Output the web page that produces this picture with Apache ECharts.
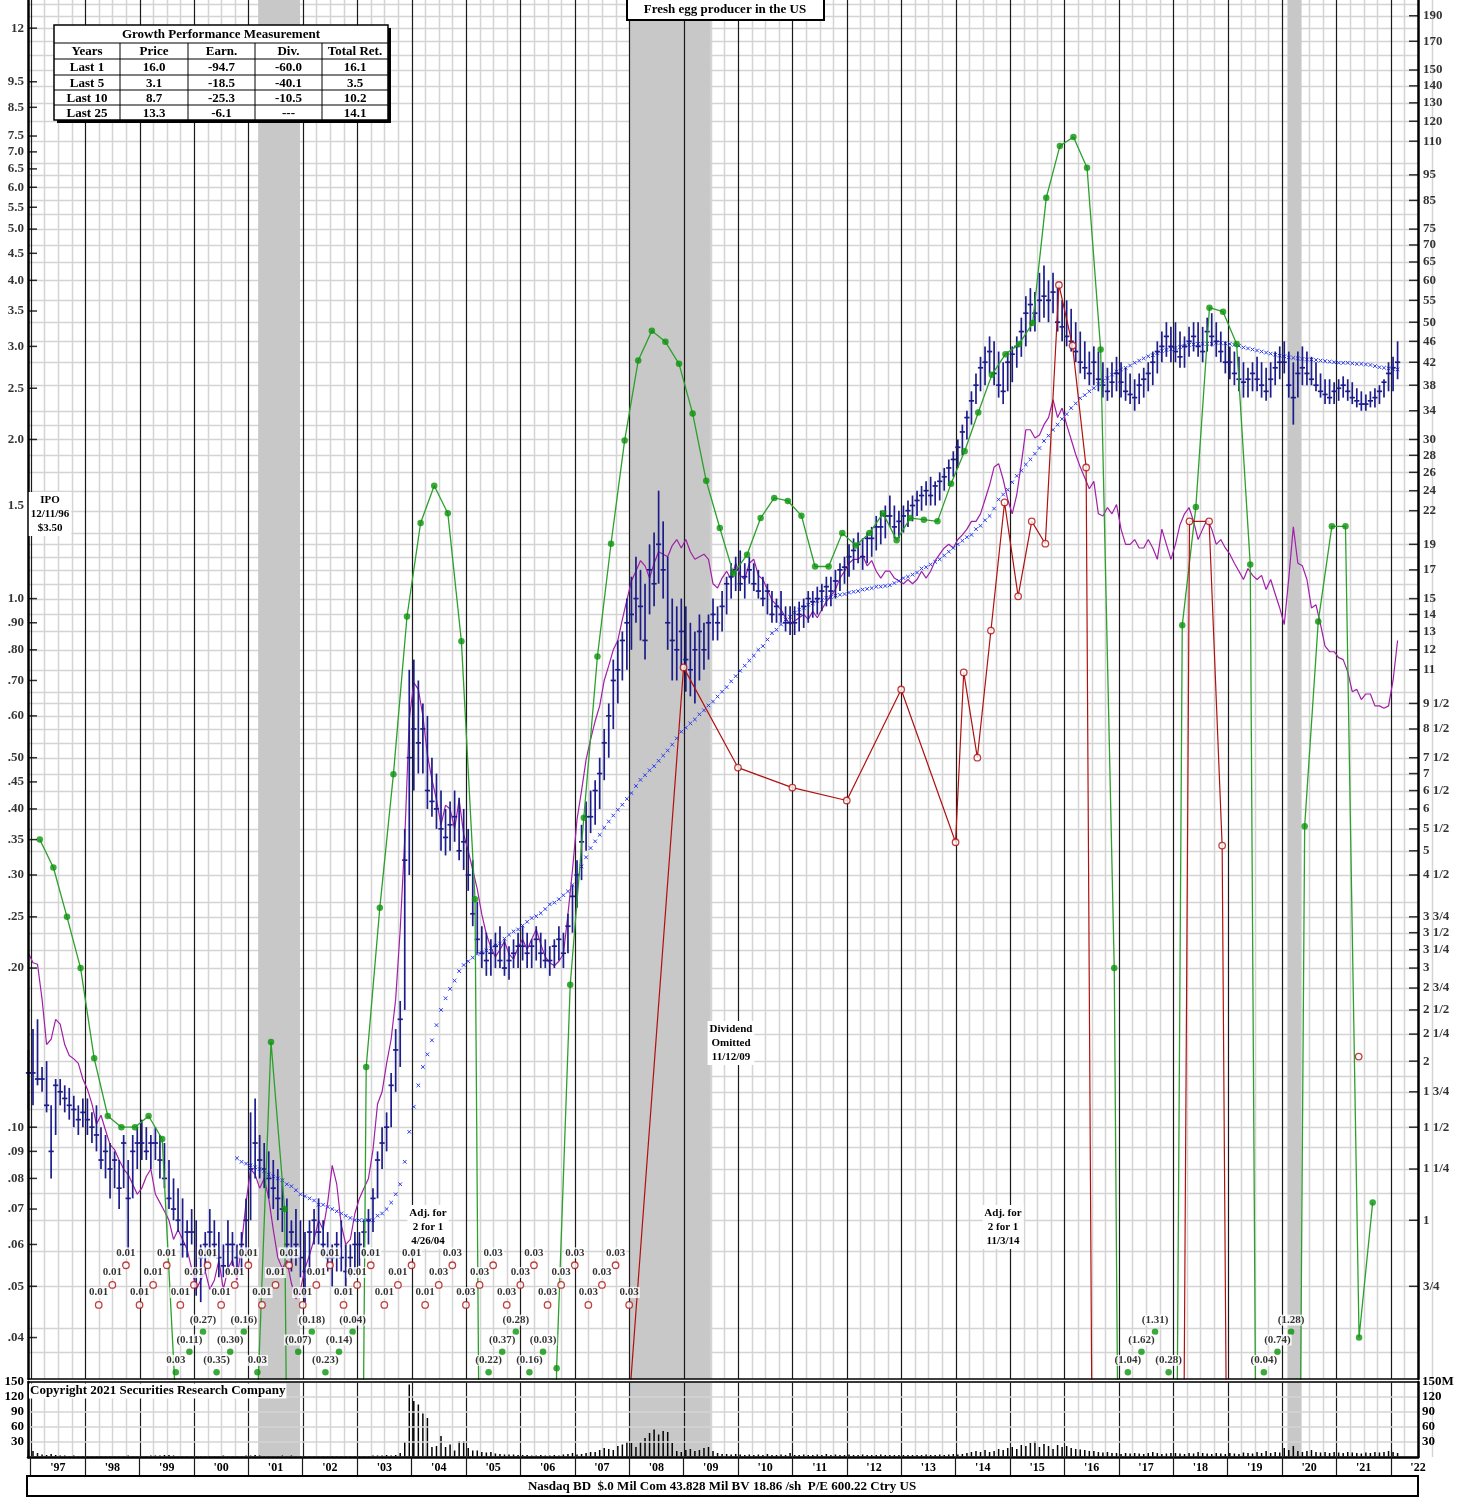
<!DOCTYPE html>
<html>
<head>
<meta charset="utf-8">
<title>Fresh egg producer in the US</title>
<script src="https://cdn.jsdelivr.net/npm/echarts@6/dist/echarts.min.js"></script>
<style>
  html, body { margin: 0; padding: 0; background: #fff; }
  #chart { width: 1470px; height: 1501px; }
</style>
</head>
<body>
<div id="chart"></div>
<script>
// monthly bars start Dec 1996 (month centre), one value per month
const MONTH0 = 1996 + 11.5 / 12;

const priceHigh = [
  2.1,
  2.3, 2.4, 1.95, 2.0, 1.65, 1.85, 1.85, 1.8, 1.78, 1.72, 1.65, 1.7,
  1.7, 1.6, 1.65, 1.5, 1.45, 1.4, 1.35, 1.3, 1.45, 1.3, 1.45, 1.5,
  1.55, 1.5, 1.45, 1.5, 1.45, 1.4, 1.3, 1.2, 1.15, 1.1, 1.0, 1.05,
  1.0, 0.9, 0.95, 1.05, 1.0, 0.95, 0.9, 1.0, 0.95, 0.9, 0.95, 1.1,
  1.6, 1.7, 1.45, 1.4, 1.35, 1.3, 1.25, 1.2, 1.1, 1.0, 1.05, 1.0,
  0.95, 1.0, 1.05, 1.1, 1.0, 0.95, 0.9, 0.95, 1.0, 0.9, 0.9, 0.95,
  0.95, 1.0, 1.05, 1.15, 1.35, 1.5, 1.6, 1.9, 2.3, 2.6, 5.5, 11.0,
  11.5, 10.5, 9.5, 9.0, 7.5, 7.0, 6.5, 6.0, 6.2, 6.5, 6.3, 6.0,
  5.5, 4.8, 4.0, 3.6, 3.5, 3.4, 3.5, 3.6, 3.4, 3.3, 3.4, 3.5,
  3.6, 3.5, 3.4, 3.6, 3.5, 3.4, 3.3, 3.4, 3.6, 3.5, 3.8, 4.3,
  4.8, 5.6, 6.2, 6.5, 6.8, 7.5, 8.5, 9.5, 11.5, 12.5, 13.0, 15.0,
  16.5, 18, 17, 16, 19, 20, 24, 21, 18, 15, 14.5, 15,
  14.5, 13.5, 13, 14, 13.5, 14, 15, 14.5, 15.5, 16.5, 17.5, 18,
  18.5, 17.5, 18, 17.5, 17, 16.5, 16, 15.5, 15, 15.5, 14.5, 14.5,
  14.5, 14.8, 15, 15.5, 15.5, 15.8, 16, 16.5, 16.5, 17, 17.5, 18,
  19, 19.5, 20, 19.5, 20, 20.5, 21.5, 22, 22.5, 23.5, 22.5, 22,
  22.5, 23, 23.5, 24, 24.5, 25, 25.5, 25, 26, 26.5, 27.5, 28.5,
  30, 32, 34, 37, 40, 43, 45, 47, 46, 44, 42, 44,
  45, 47, 51, 56, 58, 57, 62, 64, 60, 62, 58, 55,
  55, 53, 50, 48, 46, 44, 45, 44, 42, 41, 42, 43,
  42, 41, 40, 39, 40, 41, 42, 44, 46, 48, 50, 49,
  50, 48, 47, 49, 50, 50, 49, 51, 52, 50, 48, 46,
  45, 44, 43, 42, 41, 42, 43, 42, 41, 42, 44, 45,
  46, 44, 42, 44, 45, 44, 43, 42, 40, 39, 39, 38.5,
  39, 39.5, 39, 38.5, 37.5, 37, 36.5, 37, 37.5, 38, 39, 42,
  43, 46
];
const priceLow = [
  1.62,
  1.65, 1.8, 1.75, 1.6, 1.2, 1.45, 1.65, 1.6, 1.55, 1.5, 1.45, 1.5,
  1.45, 1.4, 1.35, 1.25, 1.2, 1.1, 1.15, 1.05, 1.15, 0.88, 1.1, 1.25,
  1.3, 1.3, 1.25, 1.3, 1.2, 1.15, 1.05, 1.0, 0.95, 0.85, 0.85, 0.9,
  0.72, 0.7, 0.8, 0.85, 0.85, 0.78, 0.78, 0.8, 0.82, 0.78, 0.8, 0.85,
  1.0, 1.2, 1.2, 1.15, 1.1, 1.05, 1.0, 0.95, 0.85, 0.8, 0.82, 0.78,
  0.7, 0.8, 0.9, 0.9, 0.85, 0.8, 0.75, 0.8, 0.8, 0.75, 0.78, 0.8,
  0.82, 0.85, 0.9, 0.95, 1.1, 1.25, 1.35, 1.5, 1.75, 1.95, 2.5, 4.5,
  6.5, 7.0, 7.0, 6.0, 5.8, 5.5, 5.0, 4.9, 5.0, 5.2, 4.8, 4.6,
  4.2, 3.6, 3.2, 3.0, 2.9, 2.9, 3.0, 3.0, 2.9, 2.85, 3.0, 3.0,
  3.1, 3.0, 3.0, 3.1, 3.0, 3.0, 2.9, 3.0, 3.1, 3.0, 3.2, 3.5,
  3.9, 4.4, 5.0, 5.4, 5.6, 6.0, 6.8, 7.5, 8.5, 9.5, 10.5, 11.0,
  12, 13.5, 12.5, 11.5, 14, 14.5, 16, 15, 12, 10.5, 10.5, 11,
  10, 9.8, 9.5, 10.5, 11, 11.5, 12.5, 12.5, 13, 14, 15, 15.5,
  15.5, 15, 16, 15.5, 15, 14.5, 14, 13.5, 13.5, 13.5, 13, 12.8,
  12.8, 13, 13.2, 13.5, 13.8, 14, 14.2, 14.5, 14.5, 15, 15.5, 16,
  16.5, 17, 17.5, 17, 17.5, 18, 18.5, 19, 19.5, 20.5, 19.5, 19.5,
  20, 20.5, 21, 21.5, 22, 22.5, 22.5, 22.5, 23, 24, 24.5, 25.5,
  26.5, 28, 30, 32, 35, 37, 38, 40, 38, 36, 35, 37,
  38.5, 41, 43, 45, 48, 48, 50, 51, 50, 52, 48, 46,
  45, 44, 42, 40, 39, 38, 38, 37, 36, 35.5, 36, 37,
  36, 35.5, 35, 34, 35, 36, 37, 38, 40, 42, 43, 42,
  42, 41, 41, 43, 44, 43, 42, 44, 45, 43, 42, 40,
  39, 38, 37, 36, 36, 37, 37, 36, 35.5, 36, 38, 39,
  40, 36, 32, 36, 38, 38, 38, 37, 36, 35, 35, 35,
  35.5, 36, 35.5, 35, 34.5, 34, 34, 34.5, 34.5, 35, 36, 37,
  37, 39
];
const priceClose = [
  1.9,
  1.9, 1.85, 1.85, 1.65, 1.35, 1.8, 1.75, 1.7, 1.65, 1.62, 1.55, 1.6,
  1.55, 1.5, 1.45, 1.3, 1.35, 1.25, 1.3, 1.15, 1.4, 1.1, 1.35, 1.4,
  1.4, 1.35, 1.4, 1.4, 1.3, 1.2, 1.1, 1.05, 1.0, 0.9, 0.95, 0.95,
  0.8, 0.85, 0.9, 0.95, 0.9, 0.85, 0.82, 0.9, 0.9, 0.85, 0.9, 1.0,
  1.25, 1.4, 1.3, 1.25, 1.2, 1.15, 1.1, 1.05, 0.9, 0.95, 0.9, 0.85,
  0.8, 0.95, 1.0, 0.95, 0.9, 0.85, 0.85, 0.9, 0.85, 0.8, 0.85, 0.9,
  0.9, 0.95, 1.0, 1.1, 1.3, 1.4, 1.5, 1.8, 2.1, 2.4, 4.8, 7.5,
  8.5, 8.0, 8.5, 6.5, 6.2, 6.0, 5.5, 5.3, 5.6, 5.8, 5.0, 5.2,
  4.5, 3.8, 3.4, 3.2, 3.1, 3.2, 3.3, 3.1, 3.0, 3.1, 3.2, 3.3,
  3.3, 3.2, 3.3, 3.4, 3.2, 3.1, 3.1, 3.3, 3.4, 3.2, 3.6, 4.1,
  4.5, 5.2, 5.8, 5.8, 6.5, 7.0, 8.0, 9.0, 10.5, 11.0, 12.5, 13.5,
  14, 15, 14.5, 12.5, 17, 16, 19, 17, 13.5, 12.5, 12, 13,
  11.5, 11, 12, 13, 12, 13.5, 14, 13.5, 14.5, 16, 16.5, 17,
  16, 16.5, 17, 16, 15.5, 15, 15.5, 14, 14.5, 14, 13.5, 13.5,
  13.5, 14, 14.5, 15, 14.8, 15, 15.5, 15.8, 15.5, 16.2, 17, 17.2,
  18, 18.5, 19, 18, 19.5, 19.5, 20.5, 20.5, 21.5, 21.5, 20.5, 21,
  21.5, 22, 22.5, 23, 23.5, 24, 23.5, 24.5, 25, 25.5, 26.5, 27.5,
  29, 31, 33, 35.5, 38, 41, 42, 44, 40, 38, 37, 42,
  43.5, 45, 48, 52, 54, 52, 55, 56, 55, 57, 50, 49,
  47, 46, 44, 42, 41, 40, 42, 39, 38, 37, 38.5, 40,
  38.5, 37, 36.5, 36, 38, 39, 40, 42, 44, 45, 47, 45,
  44, 43, 45, 46, 47, 45, 44, 48, 47, 46, 44, 42,
  42, 40, 39, 38.5, 39, 40, 39, 38, 37, 39, 41, 42,
  42, 38, 36, 40, 41, 40, 39, 38, 37, 36.5, 36, 37,
  37.5, 38, 37, 36, 35.5, 35, 35, 35.5, 36, 37, 38.5, 40,
  41, 42
];

// relative strength line (plotted on the price scale), monthly from Dec 1996
const relStrength = [
  3.2,
  3.07, 3.05, 2.62, 2.15, 2.2, 2.4, 2.35, 2.15, 2.05, 2.02, 1.98, 1.85,
  1.77, 1.66, 1.52, 1.58, 1.48, 1.39, 1.36, 1.3, 1.25, 1.22, 1.17, 1.12,
  1.15, 1.21, 1.25, 1.12, 1.08, 1.04, 1.0, 0.92, 0.96, 0.92, 0.88, 0.81,
  0.74, 0.77, 0.8, 0.74, 0.77, 0.84, 0.74, 0.81, 0.84, 0.77, 0.9, 1.08,
  1.25, 1.22, 1.15, 1.2, 1.1, 0.96, 0.85, 0.81, 0.84, 0.76, 0.71, 0.74,
  0.81, 0.86, 0.92, 1.0, 0.96, 1.08, 1.27, 1.17, 0.98, 0.9, 0.92, 1.03,
  1.1, 1.15, 1.2, 1.36, 1.66, 1.75, 1.98, 2.2, 2.62, 3.55, 5.25, 8.86,
  10.4, 10.1, 9.0, 7.6, 6.82, 6.25, 5.6, 6.1, 6.0, 5.5, 6.25, 5.37,
  5.0, 4.6, 4.23, 3.79, 3.48, 3.28, 3.15, 3.25, 3.37, 3.19, 3.12, 3.28,
  3.4, 3.25, 3.4, 3.55, 3.33, 3.15, 3.07, 3.03, 3.09, 3.19, 3.79, 4.6,
  5.73, 6.5, 7.44, 8.12, 8.8, 9.4, 10.5, 11.2, 12.0, 12.5, 13.7, 14.9,
  16.2, 16.9, 17.7, 17.3, 16.4, 17.5, 18.4, 18.2, 18.0, 18.9, 19.4, 18.7,
  19.4, 18.4, 17.8, 18.0, 18.2, 17.8, 16.0, 15.7, 16.4, 16.9, 16.3, 17.5,
  16.6, 16.3, 17.5, 17.8, 16.6, 16.3, 15.6, 14.9, 14.6, 14.3, 13.8, 13.4,
  13.6, 13.8, 14.0, 13.7, 14.2, 13.8, 14.3, 14.8, 15.2, 15.6, 16.4, 16.9,
  17.5, 17.8, 17.8, 18.1, 17.3, 17.7, 16.9, 16.4, 16.9, 16.9, 16.4, 16.2,
  16.0, 16.3, 16.0, 16.3, 16.9, 16.4, 16.9, 17.7, 18.2, 18.7, 19.0, 18.7,
  19.4, 19.8, 20.3, 21.0, 21.0, 21.7, 23.1, 24.6, 26.6, 27.0, 25.2, 23.1,
  21.7, 23.6, 27.0, 31.3, 31.3, 30.2, 30.6, 32.0, 33.0, 35.7, 33.0, 34.4,
  32.0, 30.0, 28.1, 26.6, 25.4, 24.2, 25.0, 21.7, 21.5, 22.3, 21.7, 22.6,
  20.3, 19.0, 19.0, 19.4, 18.7, 18.7, 19.4, 18.7, 17.8, 20.3, 19.0, 17.8,
  19.0, 20.7, 21.7, 22.3, 21.0, 19.4, 20.3, 21.2, 20.3, 19.0, 19.4, 18.7,
  18.2, 17.5, 16.9, 16.3, 17.1, 16.6, 16.3, 16.6, 15.6, 16.3, 15.3, 14.4,
  13.4, 16.4, 20.5, 17.5, 17.3, 16.3, 14.4, 14.6, 13.4, 12.2, 11.9, 11.9,
  11.6, 11.5, 10.9, 10.0, 10.1, 9.66, 9.9, 9.9, 9.4, 9.4, 9.3, 9.4,
  10.5, 12.5
];

// moving average (blue x marks), monthly, starts Oct 2000 (month index 46)
const MA_START_INDEX = 46;
const movingAvg = [
  1.31, 1.29, 1.28, 1.27, 1.26, 1.25, 1.24, 1.22, 1.21, 1.20, 1.19, 1.17, 1.16, 1.14, 1.12,
  1.11, 1.10, 1.09, 1.07, 1.07, 1.06, 1.05, 1.04, 1.03, 1.02, 1.01, 1.00,
  1.00, 1.00, 1.00, 1.00, 1.02, 1.03, 1.05, 1.08, 1.12, 1.17, 1.29, 1.47,
  1.64, 1.80, 1.95, 2.06, 2.19, 2.34, 2.50, 2.63, 2.74, 2.84, 2.96, 3.04,
  3.09, 3.14, 3.19, 3.21, 3.24, 3.27, 3.31, 3.34, 3.41, 3.47, 3.52, 3.55,
  3.61, 3.67, 3.73, 3.76, 3.81, 3.88, 3.96, 3.99, 4.05, 4.12, 4.19, 4.31,
  4.49, 4.67, 4.86, 5.06, 5.21, 5.36, 5.53, 5.68, 5.83, 5.98, 6.11, 6.27,
  6.43, 6.63, 6.81, 6.95, 7.1, 7.23, 7.4, 7.57, 7.74, 7.94, 8.16, 8.4,
  8.55, 8.71, 8.86, 9.06, 9.22, 9.42, 9.58, 9.79, 10.0, 10.2, 10.46, 10.7,
  10.95, 11.2, 11.45, 11.7, 12.0, 12.2, 12.55, 12.9, 13.1, 13.4, 13.7, 13.85,
  14.1, 14.3, 14.4, 14.6, 14.7, 14.85, 14.9, 15.05, 15.1, 15.2, 15.25, 15.3,
  15.4, 15.45, 15.5, 15.6, 15.65, 15.7, 15.8, 15.8, 15.85, 15.9, 16.05, 16.2,
  16.4, 16.5, 16.65, 16.8, 17.1, 17.2, 17.4, 17.6, 17.8, 18.1, 18.4, 18.7,
  19.0, 19.3, 19.6, 19.8, 20.3, 20.6, 21.1, 21.5, 22.2, 23.1, 23.6, 24.1,
  24.9, 25.6, 26.2, 26.9, 27.5, 28.2, 28.9, 29.8, 30.5, 31.3, 32.0, 32.8,
  33.5, 34.4, 35.1, 35.9, 36.4, 37.0, 37.5, 38.2, 38.7, 39.2, 39.8, 40.3,
  40.7, 41.0, 41.4, 41.9, 42.3, 42.7, 43.1, 43.3, 43.7, 44.1, 44.3, 44.5,
  44.7, 44.9, 45.1, 45.3, 45.4, 45.5, 45.5, 45.5, 45.5, 45.7, 45.7, 45.6,
  45.5, 45.3, 45.1, 44.8, 44.6, 44.4, 44.2, 44.0, 43.8, 43.6, 43.4, 43.2,
  43.1, 42.9, 42.8, 42.7, 42.6, 42.5, 42.5, 42.4, 42.3, 42.2, 42.1, 42.0,
  41.9, 41.9, 41.9, 41.8, 41.7, 41.7, 41.6, 41.5, 41.3, 41.1, 41.0, 40.9, 40.8, 40.7
];

// monthly volume, millions of shares
const volume = [
  15,
  12, 8, 5, 4, 6, 4, 3, 3, 2, 3, 2, 2,
  2, 2, 2, 2, 2, 2, 2, 2, 2, 3, 2, 2,
  2, 2, 3, 3, 3, 4, 4, 3, 2, 2, 2, 2,
  2, 2, 2, 2, 2, 2, 3, 2, 2, 2, 2, 3,
  3, 4, 3, 2, 2, 2, 2, 3, 2, 3, 2, 2,
  2, 2, 2, 2, 2, 2, 2, 2, 2, 2, 2, 2,
  2, 2, 2, 3, 3, 3, 4, 3, 4, 8, 30, 145,
  112, 105, 87, 78, 20, 22, 42, 20, 25, 13, 32, 32,
  18, 13, 13, 10, 9, 10, 7, 6, 5, 5, 5, 4,
  4, 4, 3, 3, 4, 3, 3, 4, 3, 5, 6, 8,
  5, 6, 8, 10, 10, 14, 18, 16, 14, 22, 25, 30,
  28, 20, 30, 38, 48, 55, 45, 52, 50, 28, 12, 10,
  14, 16, 12, 14, 18, 20, 12, 8, 6, 6, 5, 6,
  5, 4, 5, 4, 5, 4, 6, 4, 4, 5, 4, 8,
  4, 4, 5, 4, 4, 5, 4, 6, 4, 5, 4, 4,
  5, 4, 4, 5, 4, 4, 4, 5, 4, 4, 4, 4,
  4, 4, 4, 4, 4, 5, 4, 4, 5, 4, 5, 6,
  5, 6, 8, 10, 12, 10, 14, 10, 12, 16, 14, 18,
  20, 16, 24, 22, 28, 32, 20, 26, 22, 16, 24, 20,
  22, 18, 16, 15, 14, 12, 12, 10, 9, 10, 8, 8,
  6, 8, 7, 8, 7, 6, 8, 10, 8, 6, 7, 8,
  8, 7, 6, 8, 7, 10, 8, 7, 6, 8, 7, 6,
  8, 7, 6, 9, 8, 7, 10, 8, 12, 8, 10, 9,
  18, 14, 22, 12, 10, 12, 14, 10, 9, 10, 8, 10,
  9, 8, 10, 9, 8, 7, 9, 8, 10, 9, 10, 12,
  10, 8
];

// 12-month earnings per share, one value per quarter from end of Feb 1997
const EARN_START = 1997 + 2 / 12;
const earnings = [
  0.35, 0.31, 0.25, 0.20, 0.135, 0.105, 0.10, 0.10, 0.105, 0.095,
  0.03, -0.11, -0.27, -0.35, -0.30, -0.16, 0.03, 0.145, 0.07, -0.07,
  -0.18, -0.23, -0.14, -0.04, 0.13, 0.26, 0.465, 0.925, 1.39, 1.635,
  1.45, 0.83, 0.27, -0.22, -0.37, -0.28, -0.16, -0.03, 0.035, 0.186,
  0.385, 0.777, 1.27, 1.99, 2.82, 3.21, 3.06, 2.78, 2.24, 1.67,
  1.36, 1.115, 1.21, 1.42, 1.55, 1.53, 1.435, 1.15, 1.15, 1.33,
  1.26, 1.33, 1.45, 1.29, 1.42, 1.41, 1.40, 1.65, 1.90, 2.25,
  2.65, 2.90, 3.03, 3.32, 5.73, 7.18, 7.47, 6.53, 2.96, 0.20,
  -1.04, -1.62, -1.31, -0.28, 0.89, 1.49, 3.55, 3.49, 3.03, 1.16,
  -0.04, -0.74, -1.28, 0.371, 0.905, 1.37, 1.37, 0.04, 0.072
];

// dividends: quarterly from Mar 1998 to Dec 2007, then [time, value] pairs
const DIV_START = 1998.25;
const divQuarterly = [
  0.01, 0.01, 0.01, 0.01, 0.01, 0.01, 0.01, 0.01, 0.01, 0.01,
  0.01, 0.01, 0.01, 0.01, 0.01, 0.01, 0.01, 0.01, 0.01, 0.01,
  0.01, 0.01, 0.01, 0.01, 0.01, 0.03, 0.03, 0.03, 0.03, 0.03,
  0.03, 0.03, 0.03, 0.03, 0.03, 0.03, 0.03, 0.03, 0.03, 0.03
];
const divLater = [
  [2009.0, 0.741], [2010.0, 0.479], [2011.0, 0.439], [2012.0, 0.415],
  [2013.0, 0.673], [2014.0, 0.346], [2014.15, 0.725], [2014.4, 0.50],
  [2014.65, 0.87], [2014.9, 1.52], [2015.15, 1.01], [2015.4, 1.40],
  [2015.65, 1.27], [2015.9, 3.92], [2016.15, 3.01], [2016.4, 1.77],
  [2016.65, 0], [2018.05, 0], [2018.3, 1.40], [2018.66, 1.40],
  [2018.9, 0.341], [2019.15, 0], null, [2021.41, 0.136]
];

const recessions = [[2001.18, 2001.95], [2008.0, 2009.5], [2020.1, 2020.36]];

const leftTickValues = [12, 9.5, 8.5, 7.5, 7, 6.5, 6, 5.5, 5, 4.5, 4, 3.5, 3, 2.5, 2, 1.5, 1,
  0.9, 0.8, 0.7, 0.6, 0.5, 0.45, 0.4, 0.35, 0.3, 0.25, 0.2, 0.1, 0.09, 0.08, 0.07, 0.06, 0.05, 0.04];
const leftTickText = ['12', '9.5', '8.5', '7.5', '7.0', '6.5', '6.0', '5.5', '5.0', '4.5', '4.0', '3.5',
  '3.0', '2.5', '2.0', '1.5', '1.0', '.90', '.80', '.70', '.60', '.50', '.45', '.40', '.35', '.30',
  '.25', '.20', '.10', '.09', '.08', '.07', '.06', '.05', '.04'];
const rightTickValues = [190, 170, 150, 140, 130, 120, 110, 95, 85, 75, 70, 65, 60, 55, 50, 46, 42,
  38, 34, 30, 28, 26, 24, 22, 19, 17, 15, 14, 13, 12, 11, 9.5, 8.5, 7.5, 7, 6.5, 6, 5.5, 5, 4.5,
  3.75, 3.5, 3.25, 3, 2.75, 2.5, 2.25, 2, 1.75, 1.5, 1.25, 1, 0.75];
const rightTickText = ['190', '170', '150', '140', '130', '120', '110', '95', '85', '75', '70', '65',
  '60', '55', '50', '46', '42', '38', '34', '30', '28', '26', '24', '22', '19', '17', '15', '14',
  '13', '12', '11', '9 1/2', '8 1/2', '7 1/2', '7', '6 1/2', '6', '5 1/2', '5', '4 1/2', '3 3/4',
  '3 1/2', '3 1/4', '3', '2 3/4', '2 1/2', '2 1/4', '2', '1 3/4', '1 1/2', '1 1/4', '1', '3/4'];
const hGridPrices = [200, 190, 180, 170, 160, 150, 140, 130, 120, 110, 100, 95, 90, 85, 80, 75, 70,
  65, 60, 55, 50, 46, 42, 38, 34, 32, 30, 28, 26, 24, 22, 20, 19, 18, 17, 16, 15, 14, 13, 12, 11,
  10, 9.5, 9, 8.5, 8, 7.5, 7, 6.5, 6, 5.5, 5, 4.5, 4, 3.75, 3.5, 3.25, 3, 2.75, 2.5, 2.25, 2,
  1.875, 1.75, 1.625, 1.5, 1.375, 1.25, 1.125, 1, 0.875, 0.75, 0.625, 0.5625];

const perfHeader = ['Years', 'Price', 'Earn.', 'Div.', 'Total Ret.'];
const perfRows = [
  ['Last 1', '16.0', '-94.7', '-60.0', '16.1'],
  ['Last 5', '3.1', '-18.5', '-40.1', '3.5'],
  ['Last 10', '8.7', '-25.3', '-10.5', '10.2'],
  ['Last 25', '13.3', '-6.1', '---', '14.1']
];

// ---- scales ----
const X_MIN = 1996.95, X_MAX = 2022.5;
const EARN_MIN = 0.03339, EARN_MAX = 13.565;
const PE = 15;
const FLOOR = 1e-4;
const FONT = "'Liberation Serif', 'DejaVu Serif', serif";
const GREEN_ROWS = [0.0344, 0.0376, 0.041];
const RED_ROWS = [0.0461, 0.0503, 0.0548];

const monthT = (i) => MONTH0 + i / 12;

const quarterLines = [];
const yearLines = [];
for (let y = 1997; y <= 2022; y++) {
  yearLines.push([y, 1]);
  for (let q = 1; q < 4; q++) quarterLines.push([y + q / 4, 1]);
}

const bars = priceHigh.map((h, i) => [monthT(i), h, priceLow[i], priceClose[i]]);
const rsData = relStrength.map((v, i) => [monthT(i), v]);
const maData = movingAvg.map((v, i) => [monthT(i + MA_START_INDEX), v]);
const volData = volume.map((v, i) => [monthT(i), v]);

const earnLine = earnings.map((v, k) => [EARN_START + k / 4, v > 0 ? v : FLOOR]);
const earnDots = [];
const earnLabeled = [];
let lastK = -99, cnt = 0;
earnings.forEach((v, k) => {
  const t = EARN_START + k / 4;
  if (v >= EARN_MIN) {
    earnDots.push([t, v]);
  } else {
    // bottom-row labels cycle through three rows, restarting after a long gap
    if (k - lastK > 4) cnt = 0;
    const row = cnt % 3;
    cnt++;
    lastK = k;
    const txt = v < 0 ? '(' + Math.abs(v).toFixed(2) + ')' : v.toFixed(2);
    earnLabeled.push({ value: [t, GREEN_ROWS[row]], name: txt });
  }
});

const divAll = divQuarterly.map((v, k) => [DIV_START + k / 4, v]).concat(divLater);
const divLine = divAll.map((d) => (d ? [d[0], d[1] > 0 ? d[1] : FLOOR] : [null, null]));
const divDots = divAll.filter((d) => d && d[1] >= EARN_MIN);
const divLabeled = divQuarterly
  .map((v, k) => ({ value: [DIV_START + k / 4, RED_ROWS[k % 3]], name: v.toFixed(2), v }))
  .filter((d) => d.v < EARN_MIN);

// ---- render helpers ----
const vLine = (color, width) => (params, api) => {
  const cs = params.coordSys;
  const x = Math.round(api.coord([api.value(0), api.value(1)])[0]) + 0.5;
  return { type: 'line', shape: { x1: x, y1: cs.y, x2: x, y2: cs.y + cs.height },
    style: { stroke: color, lineWidth: width } };
};
const hLine = (params, api) => {
  const cs = params.coordSys;
  const y = Math.round(api.coord([api.value(0), api.value(1)])[1]) + 0.5;
  return { type: 'line', shape: { x1: cs.x, y1: y, x2: cs.x + cs.width, y2: y },
    style: { stroke: '#d4d4d4', lineWidth: 1.5 } };
};
const band = (params, api) => {
  const cs = params.coordSys;
  const a = api.coord([api.value(0), api.value(2)])[0];
  const b = api.coord([api.value(1), api.value(2)])[0];
  return { type: 'rect', shape: { x: a, y: cs.y, width: b - a, height: cs.height },
    style: { fill: '#c8c8c8' } };
};

const labelStyle = { fontFamily: FONT, fontWeight: 'bold', fontSize: 13, color: '#000' };
const smallLabel = { fontFamily: FONT, fontWeight: 'bold', fontSize: 11, color: '#000',
  backgroundColor: '#fff', padding: [0, 1] };

function gridSeries(xi, yi, yVal) {
  const qs = quarterLines.map((d) => [d[0], yVal]);
  const ys = yearLines.map((d) => [d[0], yVal]);
  const rs = recessions.map((r) => [r[0], r[1], yVal]);
  return [
    { type: 'custom', xAxisIndex: xi, yAxisIndex: yi, silent: true, z: 1, data: qs,
      renderItem: vLine('#d4d4d4', 1.5) },
    { type: 'custom', xAxisIndex: xi, yAxisIndex: yi, silent: true, z: 2, data: rs,
      encode: { x: [0, 1], y: 2 }, renderItem: band },
    { type: 'custom', xAxisIndex: xi, yAxisIndex: yi, silent: true, z: 3, data: ys,
      renderItem: vLine('#1a1a1a', 1.2) }
  ];
}

// ---- graphic: boxes and notes ----
const graphic = [];
graphic.push({ type: 'rect', shape: { x: 627, y: -2, width: 197, height: 22 },
  style: { fill: '#fff', stroke: '#000', lineWidth: 2 }, z: 100 });
graphic.push({ type: 'text', x: 725, y: 10, z: 101,
  style: { text: 'Fresh egg producer in the US', font: 'bold 13px ' + FONT, fill: '#000',
    align: 'center', verticalAlign: 'middle' } });

// performance table
const TX = 54, TY = 25, TW = 334, colX = [54, 120, 188, 255, 322, 388];
const rowY = [25, 43, 59, 75, 90, 105, 120];
graphic.push({ type: 'rect', shape: { x: TX + 3, y: TY + 3, width: TW, height: 95 },
  style: { fill: '#000' }, z: 100 });
graphic.push({ type: 'rect', shape: { x: TX, y: TY, width: TW, height: 95 },
  style: { fill: '#fff', stroke: '#000', lineWidth: 1.5 }, z: 101 });
for (let r = 1; r < rowY.length - 1; r++) {
  graphic.push({ type: 'line', z: 102, shape: { x1: TX, y1: rowY[r], x2: TX + TW, y2: rowY[r] },
    style: { stroke: '#000', lineWidth: 1 } });
}
for (let c = 1; c < colX.length - 1; c++) {
  graphic.push({ type: 'line', z: 102, shape: { x1: colX[c], y1: rowY[1], x2: colX[c], y2: rowY[6] },
    style: { stroke: '#000', lineWidth: 1 } });
}
graphic.push({ type: 'text', x: TX + TW / 2, y: (rowY[0] + rowY[1]) / 2 + 1, z: 103,
  style: { text: 'Growth Performance Measurement', font: 'bold 13px ' + FONT, fill: '#000',
    align: 'center', verticalAlign: 'middle' } });
[perfHeader].concat(perfRows).forEach((row, r) => {
  row.forEach((cell, c) => {
    graphic.push({ type: 'text', x: (colX[c] + colX[c + 1]) / 2, y: (rowY[r + 1] + rowY[r + 2]) / 2 + 1,
      z: 103, style: { text: cell, font: 'bold 13px ' + FONT, fill: '#000',
        align: 'center', verticalAlign: 'middle' } });
  });
});

function note(x, y, lines) {
  graphic.push({ type: 'text', x, y, z: 90,
    style: { text: lines.join('\n'), font: 'bold 11px ' + FONT, fill: '#000', align: 'center',
      verticalAlign: 'top', lineHeight: 14, backgroundColor: '#fff', padding: [1, 2] } });
}
note(50, 492, ['IPO', '12/11/96', '$3.50']);
note(428, 1205, ['Adj. for', '2 for 1', '4/26/04']);
note(731, 1021, ['Dividend', 'Omitted', '11/12/09']);
note(1003, 1205, ['Adj. for', '2 for 1', '11/3/14']);

graphic.push({ type: 'text', x: 29, y: 1391, z: 90,
  style: { text: 'Copyright 2021 Securities Research Company', font: 'bold 13px ' + FONT,
    fill: '#000', verticalAlign: 'middle', backgroundColor: '#fff', padding: [1, 1] } });
graphic.push({ type: 'rect', shape: { x: 27, y: 1476, width: 1391, height: 20 },
  style: { fill: '#fff', stroke: '#000', lineWidth: 2 }, z: 90 });
graphic.push({ type: 'text', x: 722, y: 1486.5, z: 91,
  style: { text: 'Nasdaq BD  $.0 Mil Com 43.828 Mil BV 18.86 /sh  P/E 600.22 Ctry US',
    font: 'bold 13px ' + FONT, fill: '#000', align: 'center', verticalAlign: 'middle' } });

// ---- chart ----
const chart = echarts.init(document.getElementById('chart'));

const hiddenX = { type: 'value', min: X_MIN, max: X_MAX, splitLine: { show: false },
  axisLabel: { show: false }, axisTick: { show: false } };

const option = {
  animation: false,
  backgroundColor: '#fff',
  textStyle: { fontFamily: FONT },
  grid: [
    { left: 28, right: 52, top: 0, height: 1379 },
    { left: 28, right: 52, top: 1382, height: 75 }
  ],
  xAxis: [
    Object.assign({}, hiddenX, { gridIndex: 0, position: 'bottom', z: 20,
      axisLine: { show: true, onZero: false, lineStyle: { color: '#000', width: 1.5 } } }),
    Object.assign({}, hiddenX, { gridIndex: 1, position: 'top', z: 20,
      axisLine: { show: true, onZero: false, lineStyle: { color: '#000', width: 1.5 } } }),
    Object.assign({}, hiddenX, { gridIndex: 1, position: 'bottom', z: 20,
      axisLine: { show: true, onZero: false, lineStyle: { color: '#000', width: 2.5 } },
      axisTick: { show: true, customValues: yearLines.map((d) => d[0]), length: 19,
        lineStyle: { color: '#1a1a1a', width: 1.2 } },
      axisLabel: { show: true, customValues: yearLines.map((d) => d[0] + 0.5).filter((v) => v <= X_MAX),
        formatter: (v) => "'" + String(Math.floor(v) % 100).padStart(2, '0'),
        fontFamily: FONT, fontWeight: 'bold', fontSize: 12, color: '#000', margin: 5 } })
  ],
  yAxis: [
    { type: 'log', logBase: 10, gridIndex: 0, position: 'left', min: EARN_MIN, max: EARN_MAX, z: 20,
      axisLine: { show: true, lineStyle: { color: '#000', width: 2.5 } },
      axisTick: { show: false }, axisLabel: { show: false }, splitLine: { show: false } },
    { type: 'log', logBase: 10, gridIndex: 0, position: 'right', min: EARN_MIN * PE, max: EARN_MAX * PE, z: 20,
      axisLine: { show: true, lineStyle: { color: '#000', width: 2.5 } },
      axisTick: { show: false }, axisLabel: { show: false }, splitLine: { show: false } },
    { type: 'value', gridIndex: 1, position: 'left', min: 0, max: 150, interval: 30, z: 20,
      axisLine: { show: true, lineStyle: { color: '#000', width: 2.5 } },
      axisTick: { show: false },
      axisLabel: Object.assign({ formatter: (v) => (v === 0 ? '' : String(v)), margin: 4 }, labelStyle),
      splitLine: { show: true, lineStyle: { color: '#d4d4d4', width: 1.5 } } },
    { type: 'value', gridIndex: 1, position: 'right', min: 0, max: 150, interval: 30, z: 20,
      axisLine: { show: true, lineStyle: { color: '#000', width: 2.5 } },
      axisTick: { show: false },
      axisLabel: Object.assign({ formatter: (v) => (v === 0 ? '' : v === 150 ? '150M' : String(v)), margin: 4 }, labelStyle),
      splitLine: { show: false } }
  ],
  graphic: graphic,
  series: [
    { type: 'custom', xAxisIndex: 0, yAxisIndex: 1, silent: true, z: 1,
      data: hGridPrices.map((v) => [2000, v]), renderItem: hLine },
    ...gridSeries(0, 1, 1),
    ...gridSeries(2, 2, 0),
    { name: 'Volume', type: 'bar', xAxisIndex: 2, yAxisIndex: 2, data: volData, barWidth: 1.5,
      itemStyle: { color: '#000' }, z: 5, silent: true },
    { name: 'Relative strength', type: 'line', xAxisIndex: 0, yAxisIndex: 1, data: rsData,
      showSymbol: false, lineStyle: { color: '#a11fa8', width: 1.2 }, z: 5, silent: true },
    { name: 'Moving average', type: 'custom', xAxisIndex: 0, yAxisIndex: 1, data: maData, z: 6, silent: true,
      renderItem: (params, api) => {
        const p = api.coord([api.value(0), api.value(1)]);
        const s = 1.8;
        const st = { stroke: '#2a3cf0', lineWidth: 1 };
        return { type: 'group', children: [
          { type: 'line', shape: { x1: p[0] - s, y1: p[1] - s, x2: p[0] + s, y2: p[1] + s }, style: st },
          { type: 'line', shape: { x1: p[0] - s, y1: p[1] + s, x2: p[0] + s, y2: p[1] - s }, style: st }
        ] };
      } },
    { name: 'Price', type: 'custom', xAxisIndex: 0, yAxisIndex: 1, data: bars, z: 7, silent: true,
      encode: { x: 0, y: [1, 2, 3] },
      renderItem: (params, api) => {
        const t = api.value(0);
        const hi = api.coord([t, api.value(1)]);
        const lo = api.coord([t, api.value(2)]);
        const cl = api.coord([t, api.value(3)]);
        const st = { stroke: '#1c1c8c', lineWidth: 1.7 };
        return { type: 'group', children: [
          { type: 'line', shape: { x1: hi[0], y1: hi[1], x2: lo[0], y2: lo[1] }, style: st },
          { type: 'line', shape: { x1: cl[0] - 2.6, y1: cl[1], x2: cl[0] + 2.6, y2: cl[1] }, style: st }
        ] };
      } },
    { name: 'Earnings', type: 'line', xAxisIndex: 0, yAxisIndex: 0, data: earnLine, showSymbol: false,
      clip: true, lineStyle: { color: '#2ca02c', width: 1.3 }, z: 8, silent: true },
    { type: 'scatter', xAxisIndex: 0, yAxisIndex: 0, data: earnDots, symbol: 'circle', symbolSize: 6.5,
      itemStyle: { color: '#0b930b' }, z: 9, silent: true },
    { type: 'scatter', xAxisIndex: 0, yAxisIndex: 0, data: earnLabeled, symbol: 'circle', symbolSize: 6.5,
      itemStyle: { color: '#0b930b' }, z: 9, silent: true, clip: false,
      label: Object.assign({ show: true, position: 'top', distance: 3, formatter: '{b}' }, smallLabel) },
    { name: 'Dividends', type: 'line', xAxisIndex: 0, yAxisIndex: 0, data: divLine, showSymbol: false,
      connectNulls: false, clip: true, lineStyle: { color: '#b01010', width: 1.2 }, z: 8, silent: true },
    { type: 'scatter', xAxisIndex: 0, yAxisIndex: 0, data: divDots, symbol: 'circle', symbolSize: 6.5,
      itemStyle: { color: '#fff', borderColor: '#b01010', borderWidth: 1.3 }, z: 9, silent: true },
    { type: 'scatter', xAxisIndex: 0, yAxisIndex: 0, data: divLabeled, symbol: 'circle', symbolSize: 6.5,
      itemStyle: { color: '#fff', borderColor: '#b01010', borderWidth: 1.3 }, z: 9, silent: true,
      label: Object.assign({ show: true, position: 'top', distance: 3, formatter: '{b}' }, smallLabel) },
    { type: 'scatter', xAxisIndex: 0, yAxisIndex: 0, silent: true, clip: false, z: 20,
      data: leftTickValues.map((v) => [X_MIN, v]), symbol: 'rect', symbolSize: [9, 1.5], symbolOffset: [4.5, 0],
      itemStyle: { color: '#000' },
      label: Object.assign({ show: true, position: 'left', distance: 4,
        formatter: (p) => leftTickText[p.dataIndex] }, labelStyle) },
    { type: 'scatter', xAxisIndex: 0, yAxisIndex: 1, silent: true, clip: false, z: 20,
      data: rightTickValues.map((v) => [X_MAX, v]), symbol: 'rect', symbolSize: [9, 1.5], symbolOffset: [-4.5, 0],
      itemStyle: { color: '#000' },
      label: Object.assign({ show: true, position: 'right', distance: 5,
        formatter: (p) => rightTickText[p.dataIndex] }, labelStyle) }
  ]
};

chart.setOption(option);
</script>
</body>
</html>
